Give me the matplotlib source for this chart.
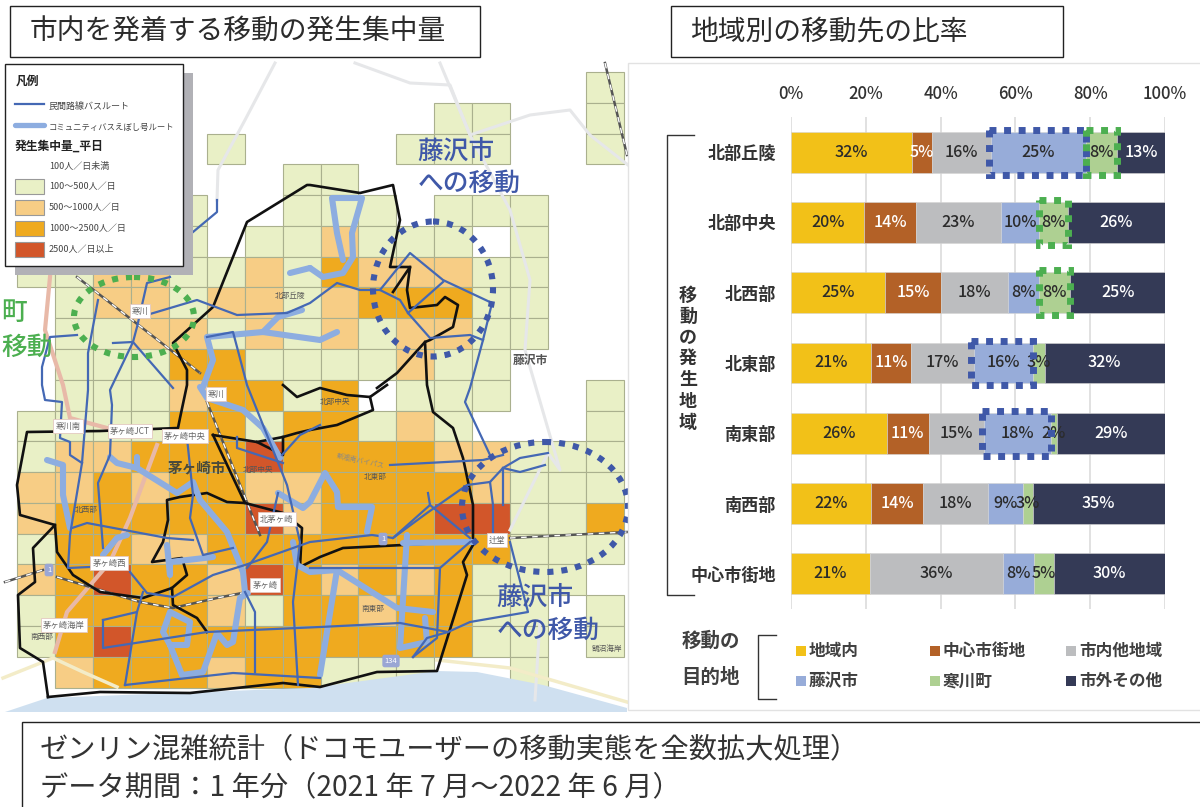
import numpy as np
import matplotlib
matplotlib.use('Agg')
import matplotlib.pyplot as plt
from matplotlib.patches import Rectangle, Ellipse, Polygon

plt.rcParams['font.family'] = ['Noto Sans CJK JP', 'DejaVu Sans']

# bar chart data
regions = ['北部丘陵', '北部中央', '北西部', '北東部', '南東部', '南西部', '中心市街地']
dests = ['地域内', '中心市街地', '市内他地域', '藤沢市', '寒川町', '市外その他']
inside = [32.3, 19.6, 25.2, 21.4, 25.7, 21.5, 21.0]
center = [5.3, 13.8, 14.9, 10.7, 11.1, 13.7, 0]
other_city = [15.9, 22.8, 18.0, 16.7, 14.8, 17.5, 35.8]
fujisawa = [25.4, 10.2, 8.1, 16.0, 17.8, 9.3, 8.1]
samukawa = [8.3, 7.7, 8.5, 3.0, 1.6, 2.6, 5.4]
outside = [12.8, 25.9, 25.3, 32.2, 29.0, 35.4, 29.7]
series = [inside, center, other_city, fujisawa, samukawa, outside]
bar_colors = ['#f2c118', '#b36127', '#bcbdbf', '#97acd9', '#aed092', '#343a56']
text_colors = ['#2b2b2b', 'white', '#2b2b2b', '#2b2b2b', '#2b2b2b', 'white']
hi_fujisawa = [0, 3, 4]
hi_samukawa = [0, 1, 2]

# mesh levels, one string per row, one digit per column
mesh = [
    '0000000000000001',
    '0000000000011001',
    '0000010000111001',
    '0000000110000000',
    '0000100111011100',
    '0000101121110100',
    '1122112132221100',
    '0122122123331100',
    '0112212121221100',
    '0111331111211000',
    '0111233130111001',
    '1111331331210001',
    '1223334333322111',
    '2232332233332111',
    '2333334233344113',
    '1332233333333111',
    '2343324323231110',
    '1333321332331101',
    '1343333333331101',
    '0233323311100100',
]

# map lines, in map units
border = [(48,697),(100,692),(190,693),(283,683),(320,687),(377,672),(437,671),(467,575),(463,562),(473,545),
          (473,505),(463,458),(453,428),(433,412),(427,385),(425,342),(430,340),(453,327),(458,305),(445,297),
          (437,305),(410,308),(407,290),(410,267),(393,292)]
border2 = [(410,267),(390,267),(400,220),(393,185),(360,193),(310,185),(307,185),(247,222),(213,307),(173,343),
           (187,370),(187,385),(180,418),(178,428),(100,431),(27,432),(17,485),(20,515),(55,525),(33,548),(35,582),
           (18,595),(20,648),(43,662),(48,697)]
inner1 = [(213,435),(245,503),(227,502),(207,493),(180,497),(167,500),(168,520),(163,542),(152,562),(182,558),
          (187,575),(172,588),(143,598),(100,592),(73,575),(57,552),(55,525)]
inner2 = [(172,588),(173,605),(197,618),(207,632)]
inner3 = [(245,503),(283,513),(302,528),(300,567),(320,557),(343,548),(403,545),(473,541)]
inner4 = [(283,385),(297,397),(320,388),(347,395),(370,397),(387,385)]
inner5 = [(370,397),(373,410),(337,425),(310,430),(297,433),(283,437),(257,442),(213,435)]
inner6 = [(283,437),(283,455),(257,442)]
inner7 = [(425,342),(397,373),(377,388)]
black_lines = [border, border2, inner1, inner2, inner3, inner4, inner5, inner6, inner7]

comm_lines = [
    [(310,268),(323,277),(343,273),(353,257),(352,233),(362,198),(332,198),(337,233),(343,260)],
    [(290,273),(310,268)],
    [(203,387),(213,360),(207,337),(263,332),(278,317),(302,310)],
    [(263,332),(320,340),(337,332)],
    [(200,387),(207,398),(243,410),(263,428),(280,458)],
    [(47,460),(63,465),(63,495),(70,528)],
    [(110,457),(117,463),(137,468),(177,493),(193,482),(200,500),(227,532),(243,572),(245,592)],
    [(137,468),(137,457)],
    [(167,545),(170,575),(170,562),(213,557)],
    [(103,555),(117,538),(127,535)],
    [(248,593),(240,598),(233,642),(227,645),(217,633),(203,672),(182,675),(170,645),(187,645),(190,622),(170,612),(163,632),(170,645)],
    [(293,542),(297,565),(310,572),(337,570),(320,675)],
    [(337,570),(397,608),(433,612)],
    [(407,535),(400,648),(427,642),(425,618)],
    [(403,543),(473,542)],
    [(367,532),(372,507),(338,507),(337,492),(325,473),(310,502),(303,508),(278,493)],
]
bus_lines = [
    [(193,232),(217,212),(217,200)],
    [(170,277),(147,283),(137,327),(133,342),(173,388)],
    [(140,317),(197,300),(237,315),(287,313),(310,303),(337,283),(360,290),(380,290),(410,253),(443,280),(492,303),(483,340),(470,388),(465,402),(490,455)],
    [(380,290),(400,300),(408,313),(430,338),(470,335),(483,340)],
    [(408,313),(443,282)],
    [(207,337),(233,332),(237,347),(247,385),(263,425),(287,485),(300,542),(293,602),(298,685)],
    [(98,300),(88,353),(88,390),(82,463),(70,535),(68,568),(90,567)],
    [(77,335),(50,337),(42,367),(42,385),(45,400),(62,402),(60,438),(70,442),(70,455),(82,463)],
    [(113,343),(133,342),(110,390),(112,405),(110,455),(98,483),(103,548)],
    [(72,528),(87,523),(167,538),(193,540)],
    [(187,438),(193,495),(190,518),(203,555),(233,548)],
    [(130,572),(147,593),(173,597),(213,575),(245,565),(310,542),(372,535),(393,538),(430,505),(428,493)],
    [(430,505),(470,538)],
    [(393,538),(427,513),(467,485),(490,482),(503,468),(520,458),(548,453)],
    [(390,465),(483,460),(503,455)],
    [(490,482),(493,505),(493,540)],
    [(503,468),(503,505)],
    [(503,468),(520,472),(545,465)],
    [(103,620),(103,648),(207,632),(320,627),(400,623),(448,632)],
    [(103,620),(137,612),(125,685)],
    [(137,612),(143,592)],
    [(125,685),(233,673),(320,678)],
    [(245,592),(255,612),(255,672)],
    [(310,568),(440,568),(470,542)],
    [(440,568),(437,638),(413,657)],
    [(413,657),(427,638),(448,632),(470,622),(528,612),(510,542)],
    [(278,493),(267,542),(247,568)],
    [(237,437),(237,448),(283,463)],
    [(282,455),(300,435),(320,425)],
]
pink_lines = [
    [(50,277),(45,330),(63,385),(70,418),(107,428)],
    [(157,445),(130,518),(110,562),(67,612),(55,652)],
]
gray_lines = [
    [(275,63),(245,120),(218,170),(217,200)],
    [(355,63),(410,83),(450,85),(470,135),(530,115),(570,110),(590,135),(628,165)],
    [(440,63),(470,135),(510,210),(530,280),(525,350),(560,470),(548,453),(510,530)],
    [(540,620),(535,700)],
]
cream_lines = [
    [(3,678),(53,658),(83,672),(117,687)],
    [(437,660),(510,668),(627,702)],
]
rail_lines = [
    [(5,582),(43,570)],
    [(57,577),(140,602),(173,608),(217,598),(247,592)],
    [(510,538),(627,532)],
    [(77,277),(200,373)],
    [(207,402),(260,535)],
    [(605,63),(627,155)],
]
sea = [(5,712),(47,698),(200,692),(310,688),(437,671),(477,672),(543,685),(627,708),(627,712)]

map_labels = [('北部丘陵', 290, 296), ('北部中央', 335, 402), ('北東部', 375, 477), ('南東部', 373, 609),
              ('北西部', 86, 510), ('南西部', 42, 637), ('北部中央', 258, 470), ('鵠沼海岸', 607, 649)]
boxed_labels = [('寒川', 140, 311), ('寒川', 216, 394), ('寒川南', 68, 426), ('茅ヶ崎JCT', 130, 431), ('茅ヶ崎中央', 185, 436),
                ('北茅ヶ崎', 277, 519), ('茅ヶ崎西', 109, 563), ('茅ヶ崎', 265, 585), ('茅ヶ崎海岸', 64, 625), ('辻堂', 497, 540)]
shields = [('1', 49, 570), ('1', 383, 539), ('134', 391, 661)]
legend_levels = ['100人／日未満', '100～500人／日', '500～1000人／日', '1000～2500人／日', '2500人／日以上']
level_colors = ['#e9f0c6', '#f7cd85', '#efaa1f', '#d2562a']

BUS = '#4468b4'
COMM = '#8dade0'
FUJI = '#3f58a8'
GREEN = '#4caf50'

fig = plt.figure(figsize=(12, 8.07), dpi=100)
ax = fig.add_axes([0, 0, 1, 1])
ax.set_xlim(0, 1200)
ax.set_ylim(807, 0)
ax.axis('off')

# mesh
xe = np.linspace(17, 624, 17)
ye = np.linspace(72, 687.5, 21)
for r, row in enumerate(mesh):
    for c, lev in enumerate(row):
        if lev != '0':
            ax.add_patch(Rectangle((xe[c], ye[r]), xe[c + 1] - xe[c], ye[r + 1] - ye[r],
                                   fc=level_colors[int(lev) - 1], ec='#aab08e', lw=0.8, zorder=1))

ax.add_patch(Polygon(sea, closed=True, fc='#cfe0f0', ec='none', zorder=1.5))
for line in gray_lines:
    ax.plot(*zip(*line), color='#e6e7e9', lw=2.2, zorder=2)
for line in cream_lines:
    ax.plot(*zip(*line), color='#f3ecc8', lw=2.5, zorder=2)
for line in pink_lines:
    ax.plot(*zip(*line), color='#e8b9a8', lw=3, zorder=2)
for line in rail_lines:
    ax.plot(*zip(*line), color='#555555', lw=1.8, zorder=2.2)
    ax.plot(*zip(*line), color='white', lw=1, ls=(0, (4, 4)), zorder=2.3)
for line in black_lines:
    ax.plot(*zip(*line), color='#111111', lw=1.9, zorder=3, solid_joinstyle='round')
for line in comm_lines:
    ax.plot(*zip(*line), color=COMM, lw=4.4, zorder=3.5, solid_joinstyle='round', solid_capstyle='round')
for line in bus_lines:
    ax.plot(*zip(*line), color=BUS, lw=1.6, zorder=4)

for s, x, y in map_labels:
    ax.text(x, y, s, fontsize=5.5, color='#555555', ha='center', va='center', zorder=5)
for s, x, y in boxed_labels:
    ax.text(x, y, s, fontsize=6, color='#666666', ha='center', va='center', zorder=5,
            bbox=dict(fc='white', ec='#e3c9c0', lw=0.6, pad=1.5))
for s, x, y in shields:
    ax.text(x, y, s, fontsize=5.5, color='white', ha='center', va='center', zorder=5,
            bbox=dict(boxstyle='round,pad=0.3', fc='#9aa6d4', ec='none'))
ax.text(197, 467, '茅ヶ崎市', fontsize=10.5, fontweight='bold', color='#4a4a3a', ha='center', va='center', zorder=5)
ax.text(530, 360, '藤沢市', fontsize=8.5, fontweight='bold', color='#555555', ha='center', va='center', zorder=5)
ax.text(360, 461, '新湘南バイパス', fontsize=5, color='#888888', rotation=-12, ha='center', va='center', zorder=5)

# dotted circles
dots = (0, (1, 1.3))
ax.add_patch(Ellipse((433, 289), 120, 135, fc='none', ec=FUJI, lw=4.4, ls=dots, zorder=6))
ax.add_patch(Ellipse((134, 317), 120, 80, fc='none', ec=GREEN, lw=4.4, ls=dots, zorder=6))
ax.add_patch(Ellipse((545, 507), 166, 130, fc='none', ec=FUJI, lw=4.4, ls=dots, zorder=6))
ax.text(456, 151, '藤沢市', fontsize=18.5, fontweight='medium', color=FUJI, ha='center', va='center', zorder=7)
ax.text(469, 183, 'への移動', fontsize=18.5, fontweight='medium', color=FUJI, ha='center', va='center', zorder=7)
ax.text(535, 597, '藤沢市', fontsize=18.5, fontweight='medium', color=FUJI, ha='center', va='center', zorder=7)
ax.text(548, 630, 'への移動', fontsize=18.5, fontweight='medium', color=FUJI, ha='center', va='center', zorder=7)
ax.text(1, 313, '町', fontsize=18.5, fontweight='medium', color=GREEN, ha='left', va='center', zorder=7)
ax.text(1, 347, '移動', fontsize=18.5, fontweight='medium', color=GREEN, ha='left', va='center', zorder=7)

# map legend
ax.add_patch(Rectangle((15, 73), 178, 202, fc='#b1b1b6', ec='none', zorder=8))
ax.add_patch(Rectangle((5, 64), 178, 202, fc='white', ec='#222222', lw=1, zorder=9))
ax.text(16, 81, '凡例', fontsize=8.5, fontweight='bold', color='#222222', va='center', zorder=10)
ax.plot([15, 44], [104, 104], color=BUS, lw=1.6, zorder=10)
ax.text(49, 106, '民間路線バスルート', fontsize=6.5, color='#444444', va='center', zorder=10)
ax.plot([15, 44], [125, 125], color=COMM, lw=3.8, solid_capstyle='round', zorder=10)
ax.text(49, 127, 'コミュニティバスえぼし号ルート', fontsize=6, color='#444444', va='center', zorder=10)
ax.text(15, 146, '発生集中量_平日', fontsize=8.5, fontweight='bold', color='#222222', va='center', zorder=10)
for i, s in enumerate(legend_levels):
    y = 166 + i * 20.9
    ax.text(49, y, s, fontsize=6.5, color='#444444', va='center', zorder=10)
    if i > 0:
        ax.add_patch(Rectangle((15, y - 8), 29, 15, fc=level_colors[i - 1], ec='#999999', lw=0.8, zorder=10))

# right panel background hides what runs past the map
ax.add_patch(Rectangle((628, 63), 580, 647, fc='white', ec='#e2e2e2', lw=1, zorder=11))
ax.add_patch(Rectangle((10, 6), 470, 51, fc='white', ec='#222222', lw=1, zorder=12))
ax.add_patch(Rectangle((671, 6), 392, 51, fc='white', ec='#222222', lw=1, zorder=12))
ax.text(30, 32, '市内を発着する移動の発生集中量', fontsize=20, color='#2b2b2b', va='center', zorder=13)
ax.text(690, 32, '地域別の移動先の比率', fontsize=20, color='#2b2b2b', va='center', zorder=13)

# bracket and vertical title
ax.plot([694, 667, 667, 694], [135, 135, 595, 595], color='#333333', lw=1, zorder=12)
for i, ch in enumerate('移動の発生地域'):
    ax.text(688, 295 + i * 21.2, ch, fontsize=13, fontweight='bold', color='#333333', ha='center', va='center', zorder=13)

# footer
ax.add_patch(Rectangle((22, 722), 1200, 120, fc='white', ec='#222222', lw=1, zorder=12))
ax.text(40, 749, 'ゼンリン混雑統計（ドコモユーザーの移動実態を全数拡大処理）', fontsize=20.3, color='#333333', va='center', zorder=13)
ax.text(40, 787, 'データ期間：1 年分（2021 年 7 月～2022 年 6 月）', fontsize=20.3, color='#333333', va='center', zorder=13)

# bars
bx = fig.add_axes([791 / 1200, 1 - 609 / 807, 374 / 1200, 492 / 807], zorder=5)
bx.patch.set_alpha(0)
y = np.arange(len(regions))
left = np.zeros(len(regions))
starts = []
for vals, col, tc in zip(series, bar_colors, text_colors):
    vals = np.array(vals)
    starts.append(left.copy())
    bx.barh(y, vals, left=left, height=0.58, color=col, edgecolor='#d5d5d5', linewidth=0.4, zorder=2)
    for yi, v, l in zip(y, vals, left):
        if v > 0:
            bx.text(l + v / 2, yi, f'{round(v)}%', color=tc, fontsize=11.6, fontweight='medium',
                    ha='center', va='center', zorder=5)
    left = left + vals
bx.set_xlim(0, 100)
bx.set_ylim(6.5, -0.5)
bx.xaxis.tick_top()
bx.set_xticks(np.arange(0, 101, 20))
bx.set_xticklabels([f'{t}%' for t in range(0, 101, 20)], fontsize=12, fontweight='medium', color='#333333')
bx.set_yticks(y)
bx.set_yticklabels(regions, fontsize=12.3, fontweight='bold', color='#333333')
bx.tick_params(length=0, axis='both')
bx.tick_params(axis='x', pad=10)
bx.tick_params(axis='y', pad=11)
bx.grid(axis='x', color='#d9d9d9', lw=1.1, zorder=0)
for sp in bx.spines.values():
    sp.set_visible(False)

for i in hi_fujisawa:
    bx.add_patch(Rectangle((starts[3][i] - 0.6, i - 0.32), series[3][i] + 0.6, 0.64, fc='none', ec=FUJI, lw=5, ls=(0, (1, 1.1)), zorder=6))
for i in hi_samukawa:
    bx.add_patch(Rectangle((starts[4][i], i - 0.32), series[4][i], 0.64, fc='none', ec=GREEN, lw=5, ls=(0, (1, 1.1)), zorder=6))

# destination legend
ax.text(711, 641, '移動の', fontsize=14, fontweight='bold', color='#404040', ha='center', va='center', zorder=13)
ax.text(711, 677, '目的地', fontsize=14, fontweight='bold', color='#404040', ha='center', va='center', zorder=13)
ax.plot([776, 758, 758, 776], [635, 635, 699, 699], color='#333333', lw=1, zorder=13)
leg_x = [796, 930, 1066]
leg_y = [651, 681]
for k, (name, col) in enumerate(zip(dests, bar_colors)):
    lx = leg_x[k % 3]
    ly = leg_y[k // 3]
    ax.add_patch(Rectangle((lx, ly - 5), 10, 10, fc=col, ec='none', zorder=13))
    ax.text(lx + 13, ly, name, fontsize=12, fontweight='bold', color='#404040', va='center', zorder=13)

fig.savefig('out.png', dpi=100)
